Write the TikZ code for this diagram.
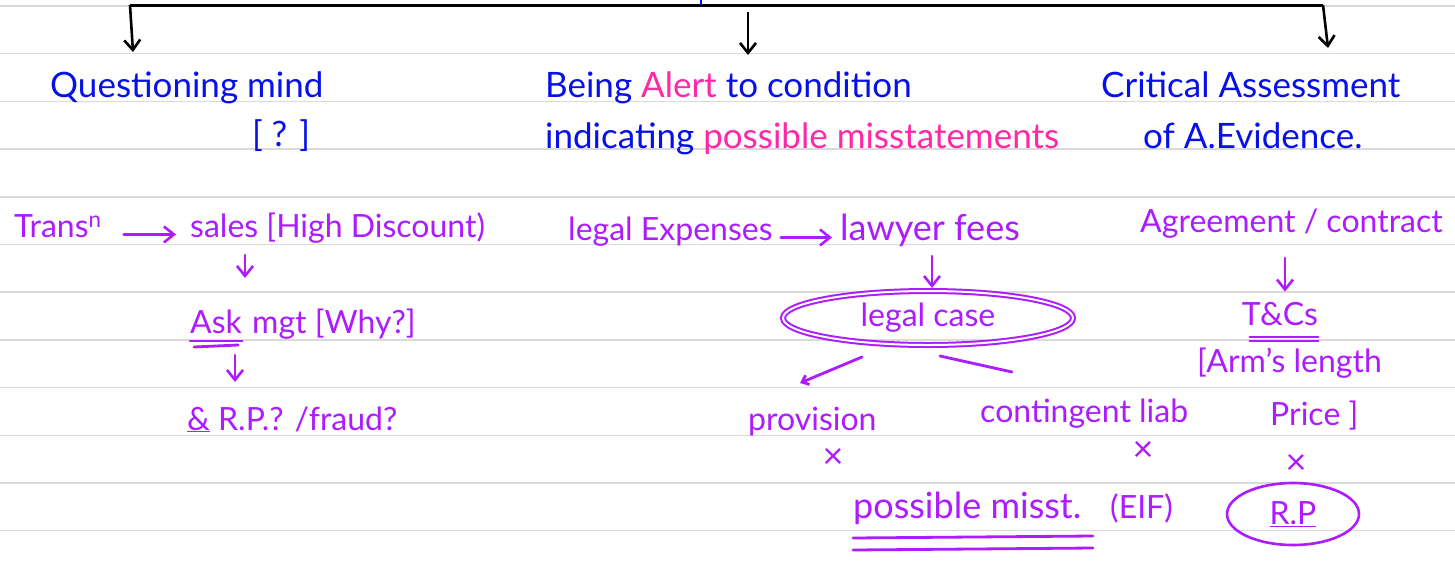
\documentclass[tikz,border=0pt]{standalone}
\usepackage{fontspec}
\setmainfont{Lato}
\usepackage{tikz}
\usetikzlibrary{arrows.meta}
\usetikzlibrary{shapes.geometric}
\usetikzlibrary{calc}
\definecolor{penblue}{RGB}{8,16,232}
\definecolor{penpink}{RGB}{255,40,165}
\definecolor{penpurple}{RGB}{172,28,255}
\definecolor{ruleline}{RGB}{218,218,218}

\begin{document}
\begin{tikzpicture}[x=1pt,y=-1pt]
\tikzset{handtext/.style={inner sep=0pt, anchor=base west, font=\fontsize{32}{38}\selectfont}}
\tikzset{headtext/.style={handtext, penblue, font=\fontsize{35}{40}\selectfont}}
\tikzset{crossmark/.style={penpurple, inner sep=0pt, anchor=base, text height=18pt, text depth=0pt,
  font=\fontsize{36}{36}\selectfont}}

\tikzstyle{myarrowstyle} = [-{Straight Barb[length=10pt,width=16pt]}, line width=2.6pt]
\tikzstyle{purplepen} = [penpurple, line width=2.8pt, line cap=round]

\useasboundingbox (0,0) rectangle (1455,563);
\fill[white] (0,0) rectangle (1455,563);
\foreach \k in {0,...,11}
  \draw[ruleline, line width=1.5pt] (0,6+47.7*\k) -- (1455,6+47.7*\k);

% top bar
\coordinate (t0) at (701,5);
\coordinate (t1) at (130,5);
\coordinate (t2) at (748,12);
\coordinate (t3) at (1323,5);
\coordinate (a1) at (133,52);
\coordinate (a2) at (748,55);
\coordinate (a3) at (1328,48);
\draw [line width=3pt] (t1) -- (t3);
\draw [penblue, line width=2.4pt] (701,0) -- (t0);
\draw [myarrowstyle] (t1) -- (a1);
\draw [myarrowstyle] (t2) -- (a2);
\draw [myarrowstyle] (t3) -- (a3);

% headings
\node [headtext] (v1) at (50,97) {Questioning mind};
\node [headtext, anchor=base] (v2) at (281,146) {[ ? ]};
\node [headtext] (v3) at (545,97) {Being \textcolor{penpink}{Alert} to condition};
\node [headtext] (v4) at (545,148) {indicating \textcolor{penpink}{possible misstatements}};
\node [headtext] (v5) at (1101,97) {Critical Assessment};
\node [headtext] (v6) at (1143,148) {of A.Evidence.};

% left column
\node [handtext, penpurple] (v7) at (14,237) {Trans\textsuperscript{n}};
\node [handtext, penpurple] (v8) at (190,237) {sales [High Discount)};
\node [handtext, penpurple] (v9) at (190,333) {Ask};
\node [handtext, penpurple] (v10) at (252,333) {mgt [Why?]};
\node [handtext, penpurple] (v11) at (187,430) {\underline{\&} R.P.? /fraud?};
\draw [purplepen, myarrowstyle, shorten <=22pt, shorten >=14pt] (v7.mid east) -- (v8.mid west);
\draw [purplepen, myarrowstyle] ($(v8.base west)+(55,18)$) -- ($(v8.base west)+(55,41)$);
\draw [purplepen, myarrowstyle] ($(v11.base west)+(48,-75)$) -- ($(v11.base west)+(48,-48)$);
\draw [purplepen] ($(v9.base west)+(0,8)$) -- ($(v9.base east)+(0,8)$);
\draw [purplepen] ($(v9.base west)+(4,14)$) -- ($(v9.base east)+(-4,12)$);

% middle column
\node [handtext, penpurple] (v12) at (568,240) {legal Expenses};
\node [handtext, penpurple, font=\fontsize{36}{40}\selectfont] (v13) at (840,240) {lawyer fees};
\node [ellipse, draw=penpurple, double, double distance=2pt, line width=2pt,
       minimum width=290pt, minimum height=54pt, inner sep=0pt,
       font=\fontsize{32}{38}\selectfont, text=penpurple] (v14) at (928,318) {legal case};
\node [handtext, penpurple] (v15) at (748,430) {provision};
\node [crossmark] (v16) at (833,468) {×};
\node [handtext, penpurple] (v17) at (980,422) {contingent liab};
\node [crossmark] (v18) at (1143,461) {×};
\node [handtext, penpurple, font=\fontsize{36}{40}\selectfont] (v19) at (853,518) {possible misst.};
\node [handtext, penpurple] (v20) at (1110,518) {(EIF)};
\draw [purplepen, myarrowstyle, shorten <=8pt, shorten >=8pt] (v12.mid east) -- (v13.mid west);
\draw [purplepen, myarrowstyle] ($(v13.base west)+(92,16)$) -- ($(v14.north)+(4,-2)$);
\draw [purplepen, -{Straight Barb[length=6pt,width=10pt]}] ($(v14.center)+(-66,39)$) -- ($(v14.center)+(-128,65)$);
\draw [purplepen] ($(v14.center)+(12,38)$) -- ($(v14.center)+(84,54)$);
\draw [purplepen] ($(v19.base west)+(0,20)$) -- ($(v19.base west)+(240,18)$);
\draw [purplepen] ($(v19.base west)+(0,32)$) -- ($(v19.base west)+(240,30)$);

% right column
\node [handtext, penpurple] (v21) at (1140,232) {Agreement / contract};
\node [handtext, penpurple, anchor=base] (v22) at (1280,325) {T\&Cs};
\node [handtext, penpurple] (v23) at (1197,372) {[Arm's length};
\node [handtext, penpurple] (v24) at (1270,425) {Price ]};
\node [crossmark] (v25) at (1296,474) {×};
\node [ellipse, draw=penpurple, line width=2.6pt, minimum width=132pt, minimum height=62pt,
       inner sep=0pt, font=\fontsize{32}{38}\selectfont, text=penpurple] (v26) at (1293,514) {\underline{R.P}};
\draw [purplepen, myarrowstyle] ($(v21.base west)+(145,26)$) -- ($(v22.north)+(5,-10)$);
\draw [purplepen] ($(v22.base west)+(8,12)$) -- ($(v22.base east)+(0,12)$);
\draw [purplepen] ($(v22.base west)+(8,16)$) -- ($(v22.base east)+(0,16)$);
\end{tikzpicture}
\end{document}
